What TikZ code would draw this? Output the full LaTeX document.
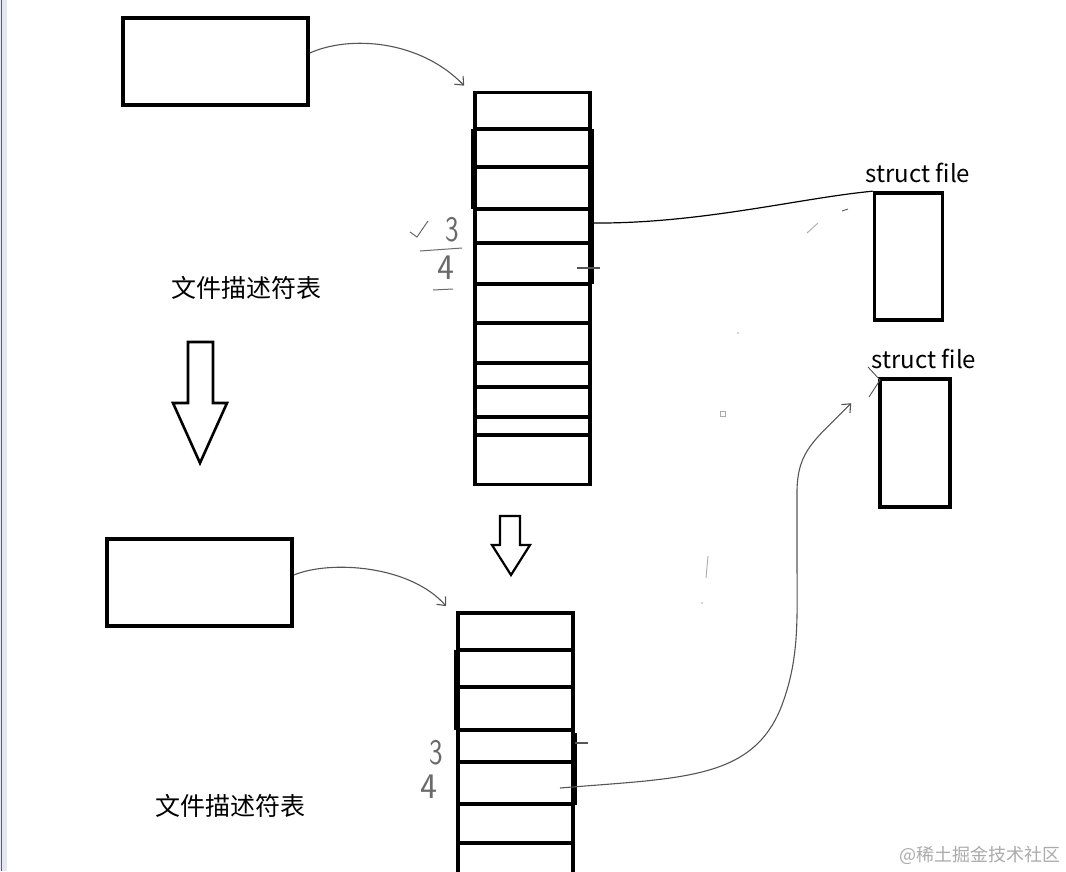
\documentclass[tikz,border=0pt]{standalone}
\usepackage{fontspec}
\setmainfont{Noto Sans CJK SC}
\usepackage{tikz}
\usetikzlibrary{arrows.meta}
\definecolor{penline}{HTML}{555555}
\definecolor{inkgray}{HTML}{6A6A6A}
\definecolor{markgray}{HTML}{ABABAB}
\definecolor{edgeblue}{HTML}{E4E6F2}
\definecolor{edgedark}{HTML}{5C5F70}

\begin{document}
\begin{tikzpicture}[x=1pt,y=-1pt,
    box/.style={draw,line width=3.6pt,inner sep=0pt},
    pen/.style={draw=penline,line width=1.1pt},
    barb/.style={-{Straight Barb[length=7pt,width=12pt]}},
    hand/.style={text=inkgray,font=\sffamily\fontsize{36}{36}\selectfont,inner sep=0pt},
    tabtext/.style={font=\fontsize{25}{25}\selectfont,inner sep=0pt}]
    \useasboundingbox (0,0) rectangle (1066,871);
    \fill[white] (0,0) rectangle (1066,871);
    \fill[edgeblue] (0,0) rectangle (7,871);
    \draw[line width=1.5pt,edgedark] (1.5,0) -- (1.5,871);

    % process boxes and descriptor tables
    \node[box,minimum width=185pt,minimum height=87pt] (proc1) at (215.5,61.5) {};
    \node[box,minimum width=185pt,minimum height=87pt] (proc2) at (199.5,582.5) {};
    \node[box,minimum width=115pt,minimum height=392pt] (toptbl) at (532.5,288.5) {};
    \node[box,minimum width=115pt,minimum height=264pt] (bottbl) at (515.5,745) {};
    \foreach \y in {129,167,209,243,284,323,363,387,417,435}
      \draw[line width=3.6pt] (toptbl.west |- 0,\y) -- (toptbl.east |- 0,\y);
    \foreach \y in {650,687,730,762,804,843}
      \draw[line width=3.6pt] (bottbl.west |- 0,\y) -- (bottbl.east |- 0,\y);
    \draw[line width=3.6pt] (473,129) -- (473,209);
    \draw[line width=3.6pt] (592,129) -- (592,284);
    \draw[line width=3.6pt] (456,650) -- (456,730);
    \draw[line width=3.6pt] (575,733) -- (575,805);

    % struct file boxes
    \node[box,minimum width=68pt,minimum height=127pt] (sfile1) at (908.5,256.5) {};
    \node[box,minimum width=70pt,minimum height=128pt] (sfile2) at (915,443) {};
    \node[tabtext,font=\fontsize{24}{24}\selectfont] (sname1) at (918,173) {struct file};
    \node[tabtext,font=\fontsize{24}{24}\selectfont] (sname2) at (924,359) {struct file};

    \node[tabtext] (tname1) at (246,288) {文件描述符表};
    \node[tabtext] (tname2) at (230,806) {文件描述符表};

    % hollow arrows
    \draw[line width=2.6pt,line join=miter] (188,342) -- (213,342) -- (213,403) -- (227,403)
      -- (200,463) -- (173,403) -- (188,403) -- cycle;
    \draw[line width=2.2pt,line join=miter] (500,516) -- (520,516) -- (520,545) -- (530,545)
      -- (511,575) -- (492,545) -- (500,545) -- cycle;

    % handwritten fd numbers
    \node[hand,xscale=0.8] (num3a) at (452,230) {3};
    \node[hand] (num4a) at (446,268) {4};
    \node[hand,xscale=0.8] (num3b) at (436,753) {3};
    \node[hand] (num4b) at (429,787) {4};
    \draw[inkgray,line width=1pt] (410,232) -- (417,237) -- (428,221);
    \draw[inkgray,line width=1pt] (420,251) -- (462,248);
    \draw[inkgray,line width=1pt] (433,290) -- (453,289);

    % connectors
    \coordinate (slot3a) at (toptbl.east |- 0,223);
    \coordinate (slot4b) at (560,788);
    \coordinate (tip1) at ([xshift=-9pt,yshift=5pt]toptbl.north west);
    \coordinate (tip2) at ([xshift=-10pt,yshift=5pt]bottbl.north west);
    \coordinate (tip3) at ([xshift=-27pt,yshift=-26pt]sfile2.north west);
    \draw[pen,barb] ([yshift=8.5pt]proc1.east) .. controls (350,35) and (420,40) .. (tip1);
    \draw[pen,barb] ([yshift=7.5pt]proc2.east) .. controls (330,560) and (410,565) .. (tip2);
    \draw[line width=1.2pt] (slot3a) .. controls (700,224) and (800,198) .. (sfile1.north west);
    \draw[pen,barb] (slot4b) .. controls (680,778) and (750,780) .. (780,710)
      .. controls (800,660) and (797,620) .. (797,560) -- (797,490)
      .. controls (798,450) and (815,440) .. (tip3);
    \draw[pen] (577,268) -- (600,268);
    \draw[pen] (575,743) -- (588,743);

    % stray pen marks
    \draw[penline,line width=0.9pt] (868,367) -- (880,380) -- (869,397);
    \draw[markgray,line width=0.8pt] (720,411) rectangle (725,416);
    \draw[markgray,line width=0.9pt] (708,556) -- (706,578);
    \draw[markgray,line width=0.9pt] (807,233) -- (818,223);
    \draw[penline,line width=0.9pt] (842,211) -- (848,209);
    \fill[markgray] (702,603) circle (0.8);
    \fill[markgray] (738,333) circle (0.8);

    \node[font=\fontsize{18}{18}\selectfont,text=markgray,inner sep=0pt] (wmark) at (980,855) {@稀土掘金技术社区};
  \end{tikzpicture}
\end{document}
